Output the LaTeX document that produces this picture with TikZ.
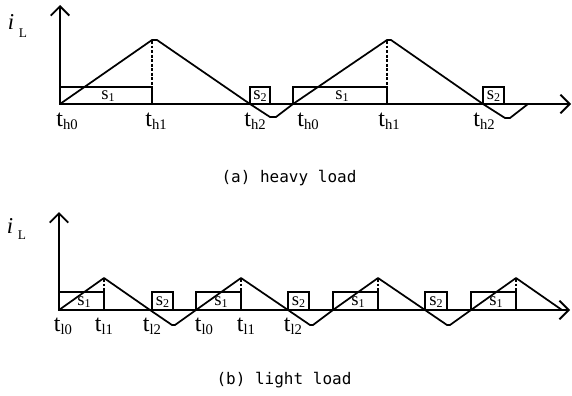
\documentclass[tikz,border=0pt]{standalone}
\usepackage{fontspec}
\setmainfont{Liberation Serif}
\newfontfamily\capfont{DejaVu Sans Mono}
\usetikzlibrary{arrows.meta}
\newcommand\mytlab[1]{{\fontsize{18}{18}\selectfont t}\raisebox{-2.5pt}{\fontsize{11}{11}\selectfont #1}}
\newcommand\myslab[1]{{\fontsize{14}{14}\selectfont s}\raisebox{-2pt}{\fontsize{9}{9}\selectfont #1}}
\tikzset{
  axis/.style={line width=1.4pt,-{Straight Barb[length=7pt,width=14pt,line width=1.4pt]}},
  wave/.style={line width=1.3pt,line join=round},
  sbox/.style={line width=1.3pt},
  dashv/.style={line width=2pt,dash pattern=on 2.2pt off 1.2pt},
  tlab/.style={inner sep=0pt},
  slab/.style={inner sep=0pt},
  captext/.style={inner sep=0pt,font=\capfont\fontsize{12}{12}\selectfont}
}
\begin{document}
\begin{tikzpicture}[x=0.75pt,y=-0.75pt]
\useasboundingbox (0,0) rectangle (572,396);
% ---------- (a) heavy load ----------
\coordinate (oa) at (60,104);
\coordinate (ya) at (60,5);
\coordinate (xa) at (571,104);
\draw[axis] (oa) -- (ya);
\draw[axis] (oa) -- (xa);
% S boxes
\draw[sbox] (60,87) rectangle (152,104);
\draw[sbox] (293,87) rectangle (387,104);
\draw[sbox] (250,87) rectangle (270,104);
\draw[sbox] (483,87) rectangle (504,104);
% waveform
\draw[wave] (60,104) -- (152,40) -- (157,40) -- (250,104) -- (270,117) -- (276,117) -- (293,104)
  -- (387,40) -- (391,40) -- (483,104) -- (505,118) -- (510,118) -- (528,104);
% dashed
\draw[dashv] (152,41) -- (152,104);
\draw[dashv] (387,41) -- (387,104);
% labels
\node[inner sep=0pt] (ia) at (11,22) {\fontsize{17}{17}\selectfont\itshape i};
\node[inner sep=0pt] (La) at (23,33) {\fontsize{10}{10}\selectfont L};
\node[slab] (s1a) at (108,96) {\myslab{1}};
\node[slab] (s1b) at (342,96) {\myslab{1}};
\node[slab] (s2a) at (260,96) {\myslab{2}};
\node[slab] (s2b) at (493.5,96) {\myslab{2}};
\node[tlab] (th0a) at (67,121) {\mytlab{h0}};
\node[tlab] (th1a) at (156,121) {\mytlab{h1}};
\node[tlab] (th2a) at (255,121) {\mytlab{h2}};
\node[tlab] (th0b) at (308,121) {\mytlab{h0}};
\node[tlab] (th1b) at (389,121) {\mytlab{h1}};
\node[tlab] (th2b) at (484,121) {\mytlab{h2}};
\node[captext] (capa) at (289,178) {(a) heavy load};
% ---------- (b) light load ----------
\coordinate (ob) at (59,310);
\coordinate (yb) at (59,212);
\coordinate (xb) at (570,310);
\draw[axis] (ob) -- (yb);
\draw[axis] (ob) -- (xb);
\draw[sbox] (59,292) rectangle (104,310);
\draw[sbox] (196,292) rectangle (241,310);
\draw[sbox] (333,292) rectangle (378,310);
\draw[sbox] (471,292) rectangle (516,310);
\draw[sbox] (152,292) rectangle (173,310);
\draw[sbox] (288,292) rectangle (309,310);
\draw[sbox] (425,292) rectangle (447,310);
\draw[wave] (59,310) -- (104,278) -- (150,310) -- (172,325) -- (175,325) -- (196,310)
  -- (241,278) -- (288,310) -- (310,325) -- (313,325) -- (333,310)
  -- (378,278) -- (425,310) -- (447,325) -- (450,325) -- (471,310)
  -- (516,278) -- (562,310);
\draw[dashv] (104,279) -- (104,310);
\draw[dashv] (241,279) -- (241,310);
\draw[dashv] (378,279) -- (378,310);
\draw[dashv] (516,279) -- (516,310);
\node[inner sep=0pt] (ib) at (10,226) {\fontsize{17}{17}\selectfont\itshape i};
\node[inner sep=0pt] (Lb) at (22,235) {\fontsize{10}{10}\selectfont L};
\node[slab] (s1c) at (84,302) {\myslab{1}};
\node[slab] (s1d) at (221,302) {\myslab{1}};
\node[slab] (s1e) at (358,302) {\myslab{1}};
\node[slab] (s1f) at (496,302) {\myslab{1}};
\node[slab] (s2c) at (162.5,302) {\myslab{2}};
\node[slab] (s2d) at (298.5,302) {\myslab{2}};
\node[slab] (s2e) at (436,302) {\myslab{2}};
\node[tlab] (tl0a) at (63,326) {\mytlab{l0}};
\node[tlab] (tl1a) at (104,326) {\mytlab{l1}};
\node[tlab] (tl2a) at (152,326) {\mytlab{l2}};
\node[tlab] (tl0b) at (204,326) {\mytlab{l0}};
\node[tlab] (tl1b) at (246,326) {\mytlab{l1}};
\node[tlab] (tl2b) at (293,326) {\mytlab{l2}};
\node[captext] (capb) at (284,380) {(b) light load};
\end{tikzpicture}
\end{document}
